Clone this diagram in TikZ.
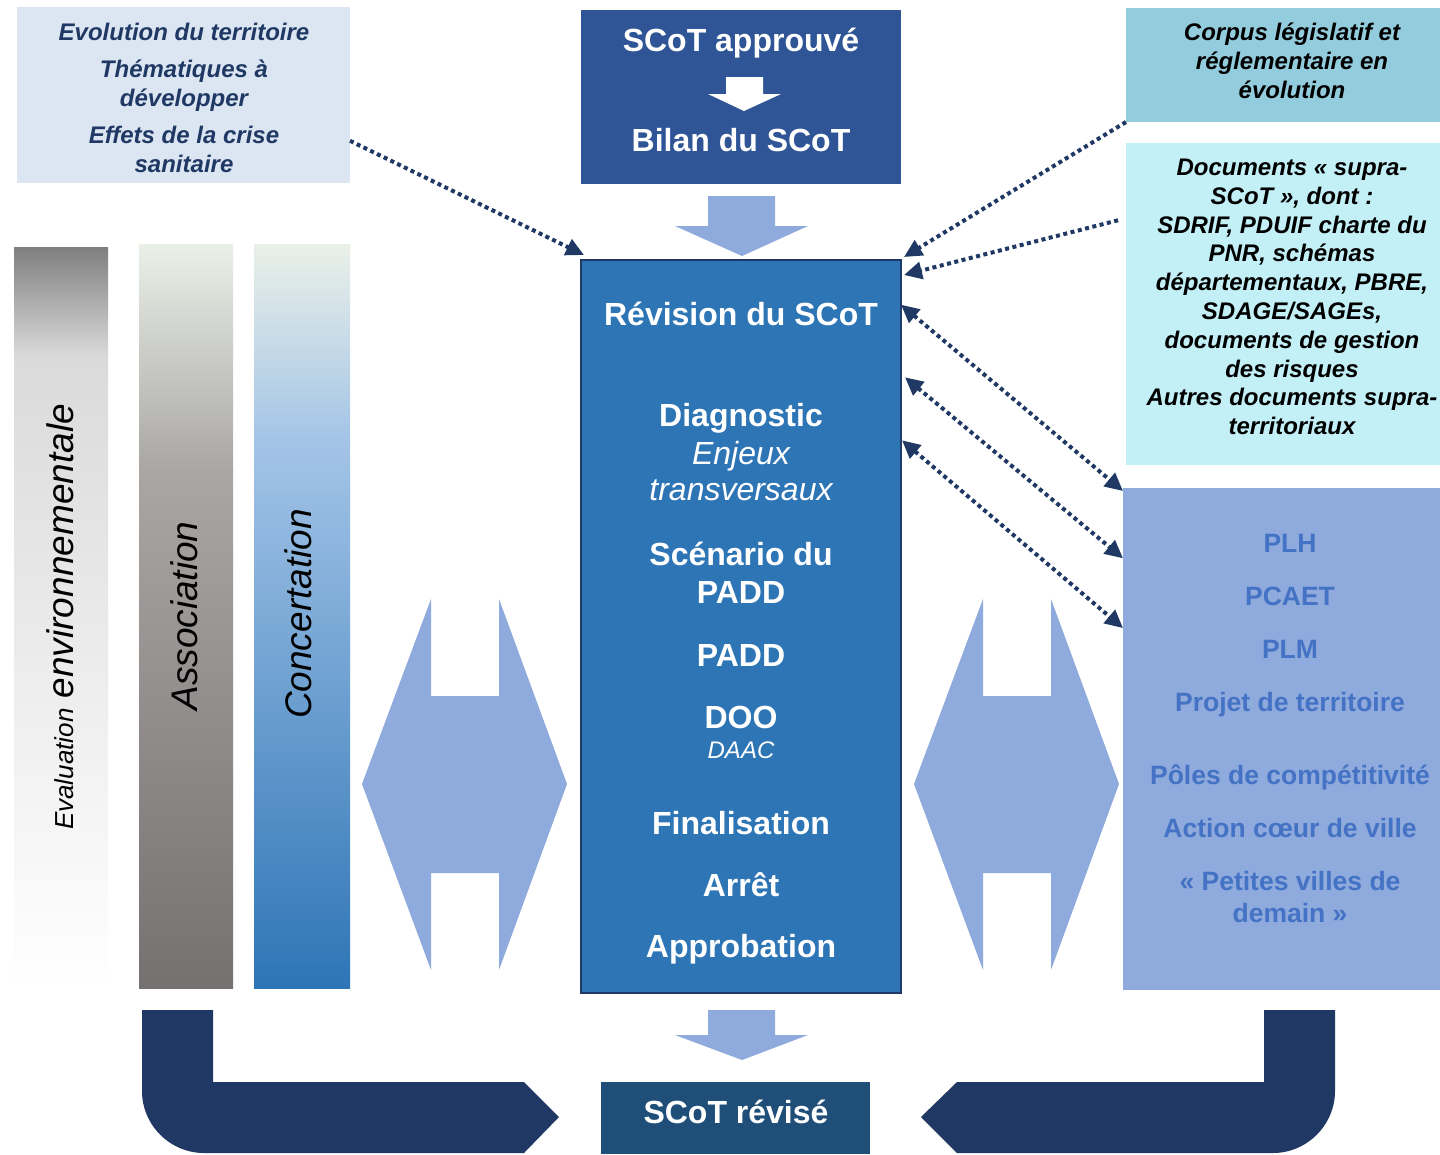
\documentclass[tikz,border=0pt]{standalone}
\usepackage{fontspec}
\setmainfont{Liberation Sans}
\usepackage{xcolor}
\usetikzlibrary{positioning}
\usetikzlibrary{calc}
\usetikzlibrary{arrows.meta}

\definecolor{navy}{HTML}{203864}
\definecolor{ctxfill}{HTML}{DCE6F2}
\definecolor{ctxink}{HTML}{1F3864}
\definecolor{appblue}{HTML}{2F5597}
\definecolor{revblue}{HTML}{2E75B6}
\definecolor{lightarrow}{HTML}{8FAADC}
\definecolor{corpusfill}{HTML}{93CDDD}
\definecolor{suprafill}{HTML}{C3F0F6}
\definecolor{planink}{HTML}{4472C4}
\definecolor{revisedblue}{HTML}{1F4E79}
\definecolor{baronetop}{HTML}{7F7F7F}
\definecolor{baronemid}{HTML}{DADADA}
\definecolor{bartop}{HTML}{EAF0E8}
\definecolor{bartwomid}{HTML}{A9A6A4}
\definecolor{bartwobot}{HTML}{767171}
\definecolor{barthreemid}{HTML}{A3C4E7}

\tikzset{
  navytip/.tip={Triangle[length=18pt,width=17pt]},
  boxnode/.style={rectangle, inner sep=0pt, outer sep=0pt},
  revtxt/.style={anchor=base, text=white, font=\fontsize{32}{38}\selectfont\bfseries},
  revit/.style={anchor=base, text=white, font=\fontsize{32}{38}\selectfont\itshape},
  sidetxt/.style={align=center, inner sep=0pt, font=\fontsize{24}{28.8}\selectfont\bfseries\itshape},
  plantxt/.style={align=center, inner sep=0pt, text=planink, font=\fontsize{26.5}{32}\selectfont\bfseries},
  bartxt/.style={rotate=90, inner sep=0pt, font=\fontsize{37}{44}\selectfont\itshape},
  dotarrow/.style={navy, line width=4pt, dash pattern=on 4pt off 3.5pt, -navytip},
  dotboth/.style={navy, line width=4pt, dash pattern=on 4pt off 3.5pt, navytip-navytip},
}

\begin{document}
\begin{tikzpicture}[x=1pt, y=-1pt]
            \useasboundingbox (0,0) rectangle (1440,1154);
            \fill[white] (0,0) rectangle (1440,1154);

            % Boxes
            \node[boxnode, fill=ctxfill, minimum width=333pt, minimum height=176pt] (ctx) at (183.5,95) {};
            \node[boxnode, fill=appblue, minimum width=320pt, minimum height=174pt] (app) at (741,97) {};
            \node[boxnode, fill=revblue, draw=navy, line width=1.5pt, minimum width=320pt, minimum height=733pt] (rev) at (741,626.5) {};
            \node[boxnode, fill=corpusfill, minimum width=314pt, minimum height=114pt] (corpus) at (1283,65) {};
            \node[boxnode, fill=suprafill, minimum width=314pt, minimum height=322pt] (supra) at (1283,304) {};
            \node[boxnode, fill=lightarrow, minimum width=317pt, minimum height=502pt] (plans) at (1281.5,739) {};
            \node[boxnode, fill=revisedblue, minimum width=269pt, minimum height=72pt] (revised) at (735.5,1118) {};

            % Side bars
            \shade[top color=baronetop, bottom color=baronemid] (14,247) rectangle (108,356);
            \shade[top color=baronemid, bottom color=white] (14,355) rectangle (108,990);
            \shade[top color=bartop, bottom color=bartwomid] (139,244) rectangle (233,471);
            \shade[top color=bartwomid, bottom color=bartwobot] (139,470) rectangle (233,988);
            \shade[top color=bartop, bottom color=barthreemid] (254,244) rectangle (350,441);
            \shade[top color=barthreemid, bottom color=revblue] (254,440) rectangle (350,988);
            \node[bartxt] (evaltext) at (60,617) {{\fontsize{26}{30}\selectfont Evaluation} environnementale};
            \node[bartxt] (assoctext) at (184,616) {Association};
            \node[bartxt] (concerttext) at (298,614) {Concertation};

            % Block arrows
            \fill[white] (726,77) -- (763,77) -- (763,94) -- (781,94) -- (744,111) -- (708,94) -- (726,94) -- cycle;
            \fill[lightarrow] (708,196) -- (775,196) -- (775,226) -- (808,226) -- (742,256) -- (675,226) -- (708,226) -- cycle;
            \fill[lightarrow] (708,1010) -- (775,1010) -- (775,1035) -- (808,1035) -- (742,1060) -- (675,1035) -- (708,1035) -- cycle;
            \foreach \dx in {0,552} {
              \fill[lightarrow] (362+\dx,784) -- (431+\dx,599) -- (431+\dx,696) -- (499+\dx,696) -- (499+\dx,599) -- (567+\dx,784)
                -- (499+\dx,970) -- (499+\dx,873) -- (431+\dx,873) -- (431+\dx,970) -- cycle;
            }
            \fill[navy] (142,1010) -- (213,1010) -- (213,1082) -- (524,1082) -- (559,1117) -- (524,1153) -- (204,1153)
              .. controls (170,1153) and (142,1125) .. (142,1091) -- cycle;
            \fill[navy] (1335,1010) -- (1264,1010) -- (1264,1082) -- (957,1082) -- (921,1117) -- (957,1153) -- (1273,1153)
              .. controls (1307,1153) and (1335,1125) .. (1335,1091) -- cycle;

            % Texts
            \node[sidetxt, text=ctxink] (ctxtext) at (184,98) {Evolution du territoire\\[8pt] Thématiques à\\ développer\\[8pt] Effets de la crise\\ sanitaire};
            \node[revtxt] (apptext) at (741,51) {SCoT approuvé};
            \node[revtxt] (bilantext) at (741,151) {Bilan du SCoT};
            \node[sidetxt] (corpustext) at (1292,61) {Corpus législatif et\\ réglementaire en\\ évolution};
            \node[sidetxt] (supratext) at (1292,297) {Documents « supra-\\ SCoT », dont :\\ SDRIF, PDUIF charte du\\ PNR, schémas\\ départementaux, PBRE,\\ SDAGE/SAGEs,\\ documents de gestion\\ des risques\\ Autres documents supra-\\ territoriaux};
            \node[plantxt] (plantext) at (1290,729) {PLH\\[21pt] PCAET\\[21pt] PLM\\[21pt] Projet de territoire\\[41pt] Pôles de compétitivité\\[21pt] Action cœur de ville\\[21pt] « Petites villes de\\ demain »};

            \node[revtxt] (revtitle) at (741,325) {Révision du SCoT};
            \node[revtxt] (diag) at (741,426) {Diagnostic};
            \node[revit] (enjeux) at (741,464) {Enjeux};
            \node[revit] (transv) at (741,500) {transversaux};
            \node[revtxt] (scen) at (741,565) {Scénario du};
            \node[revtxt] (scenpadd) at (741,603) {PADD};
            \node[revtxt] (padd) at (741,666) {PADD};
            \node[revtxt] (doo) at (741,728) {DOO};
            \node[revit, font=\fontsize{24}{28}\selectfont\itshape] (daac) at (741,758) {DAAC};
            \node[revtxt] (final) at (741,834) {Finalisation};
            \node[revtxt] (arret) at (741,896) {Arrêt};
            \node[revtxt] (appro) at (741,957) {Approbation};
            \node[revtxt] (revisedtext) at (736,1123) {SCoT révisé};

            % Dotted links
            \draw[dotarrow] ($(ctx.north east)!0.76!(ctx.south east)$) -- ($(rev.north west)+(3,-5)$);
            \draw[dotarrow] (corpus.south west) -- ($(rev.north east)+(3,-3)$);
            \draw[dotarrow] ($(supra.north west)!0.24!(supra.south west)+(-8,0)$) -- ($(rev.north east)+(3,15)$);
            \draw[dotboth] ($(rev.north east)!0.061!(rev.south east)$) -- ($(plans.north west)!0.006!(plans.south west)$);
            \draw[dotboth] ($(rev.north east)!0.16!(rev.south east)+(4,0)$) -- ($(plans.north west)!0.14!(plans.south west)$);
            \draw[dotboth] ($(rev.north east)!0.246!(rev.south east)+(1,0)$) -- ($(plans.north west)!0.279!(plans.south west)$);
        \end{tikzpicture}
\end{document}
